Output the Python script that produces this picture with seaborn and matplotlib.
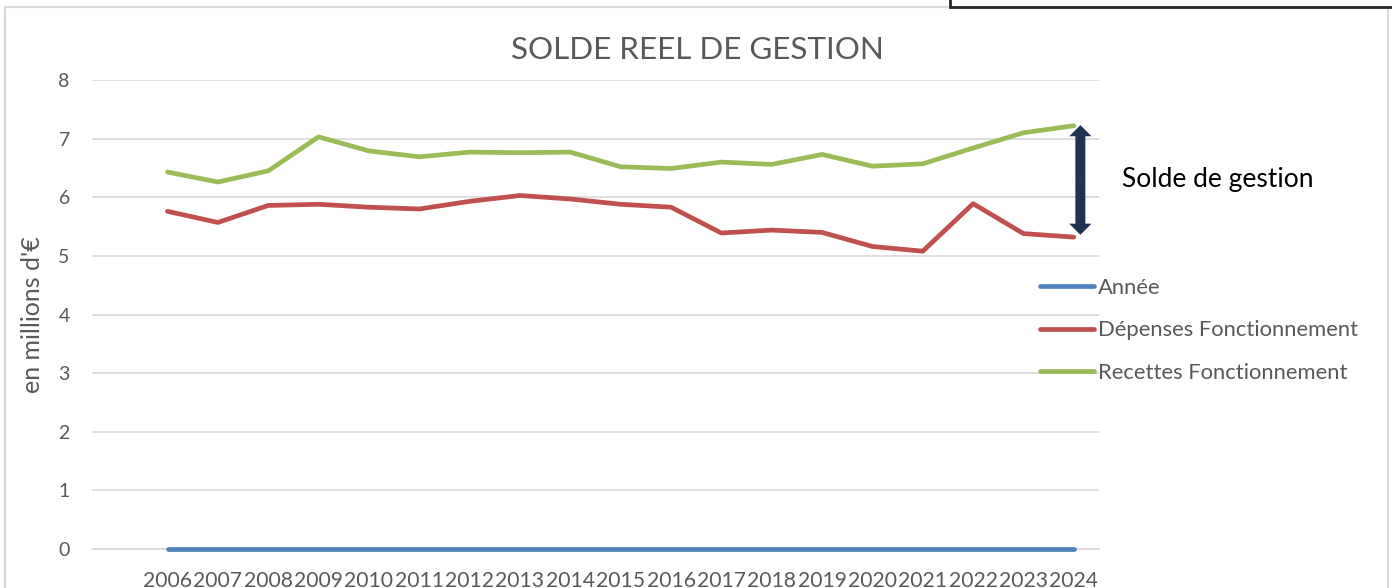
import pandas as pd
import numpy as np
import matplotlib
matplotlib.use('Agg')
import matplotlib.pyplot as plt
from matplotlib.patches import Rectangle, FancyArrowPatch
from matplotlib.lines import Line2D
import seaborn as sns

# Données (en millions d'€)
annees = list(range(2006, 2025))
depenses = [5.76, 5.57, 5.86, 5.88, 5.83, 5.80, 5.93, 6.03, 5.97, 5.88,
            5.83, 5.39, 5.44, 5.40, 5.16, 5.08, 5.89, 5.38, 5.32]
recettes = [6.43, 6.26, 6.45, 7.03, 6.79, 6.69, 6.77, 6.76, 6.77, 6.52,
            6.49, 6.60, 6.56, 6.73, 6.53, 6.57, 6.84, 7.10, 7.22]
annee_serie = [0] * len(annees)
series = ["Année", "Dépenses Fonctionnement", "Recettes Fonctionnement"]
couleurs = ["#4F81BD", "#C0504D", "#9BBB59"]

df = pd.DataFrame({
    "annee": annees * 3,
    "valeur": annee_serie + depenses + recettes,
    "serie": [series[0]] * 19 + [series[1]] * 19 + [series[2]] * 19,
})

sns.set_theme(style="white")
plt.rcParams['font.family'] = ['Lato', 'DejaVu Sans']
GRIS = "#595959"

fig = plt.figure(figsize=(13.92, 5.88), dpi=100)
ax = fig.add_axes([92 / 1392, 39 / 588, 1007 / 1392, 469 / 588])

sns.lineplot(data=df, x="annee", y="valeur", hue="serie", hue_order=series,
             palette=dict(zip(series, couleurs)), linewidth=3.4, ax=ax,
             solid_capstyle='round', legend=False)
for ligne in ax.lines:
    ligne.set_clip_on(False)
    ligne.set_zorder(5)

ax.set_xlim(2004.5, 2024.5)
ax.set_ylim(0, 8)
ax.set_yticks(range(0, 9))
ax.grid(axis='y', color='#D9D9D9', linewidth=1.2)
ax.set_axisbelow(True)
for s in ['top', 'right', 'left']:
    ax.spines[s].set_visible(False)
ax.spines['bottom'].set_color('#D9D9D9')
ax.spines['bottom'].set_linewidth(1.2)

# graduations : traits entre catégories, étiquettes au centre
ax.set_xticks(np.arange(2004.5, 2025, 1.0))
ax.set_xticklabels([])
ax.tick_params(axis='x', which='major', length=7, color='#D9D9D9', width=1.2, direction='out')
ax.set_xticks(annees, minor=True)
ax.set_xticklabels([str(a) for a in annees], minor=True)
ax.tick_params(axis='x', which='minor', length=0, pad=16, labelsize=15.2, labelcolor=GRIS)
ax.tick_params(axis='y', length=0, pad=16, labelsize=14, labelcolor=GRIS)

ax.set_xlabel("")
ax.set_ylabel("en millions d'€", fontsize=18, color=GRIS)
ax.yaxis.set_label_coords(-48 / 1007, 0.5)

fig.text(697 / 1392, 1 - 50 / 588, "SOLDE REEL DE GESTION", ha='center', va='center',
         fontsize=22.6, color=GRIS)

handles = [Line2D([0], [0], color=c, lw=3.4, solid_capstyle='round') for c in couleurs]
ax.legend(handles, series, loc='upper left', bbox_to_anchor=(1040 / 1392, 1 - 278 / 588),
          bbox_transform=fig.transFigure, frameon=False, fontsize=15.8,
          handlelength=2.45, handletextpad=0.2, labelspacing=1.02, borderpad=0,
          borderaxespad=0, labelcolor=GRIS)

# flèche double du solde de gestion
x_fl, haut, bas = 2024.13, 7.23, 5.36
milieu = (haut + bas) / 2
for bout in (haut, bas):
    ax.add_patch(FancyArrowPatch((x_fl, milieu), (x_fl, bout),
                                 arrowstyle='simple,head_length=8,head_width=16,tail_width=7.2',
                                 mutation_scale=1, lw=0, color='#1F3350',
                                 shrinkA=0, shrinkB=0, clip_on=False, zorder=6))
fig.text(1218 / 1392, 1 - 180 / 588, "Solde de gestion", ha='center', va='center',
         fontsize=19, color='black')

# cadres
fig.add_artist(Rectangle((5 / 1392, -0.1), 1383 / 1392, 1.1 - 7 / 588,
                         transform=fig.transFigure, fill=False,
                         edgecolor='#D9D9D9', lw=1.5))
fig.add_artist(Rectangle((950 / 1392, 1 - 7 / 588), 0.4, 0.1,
                         transform=fig.transFigure, fill=True, facecolor='white',
                         edgecolor='#262626', lw=2))

plt.savefig('out.png', dpi=100)
plt.close()
